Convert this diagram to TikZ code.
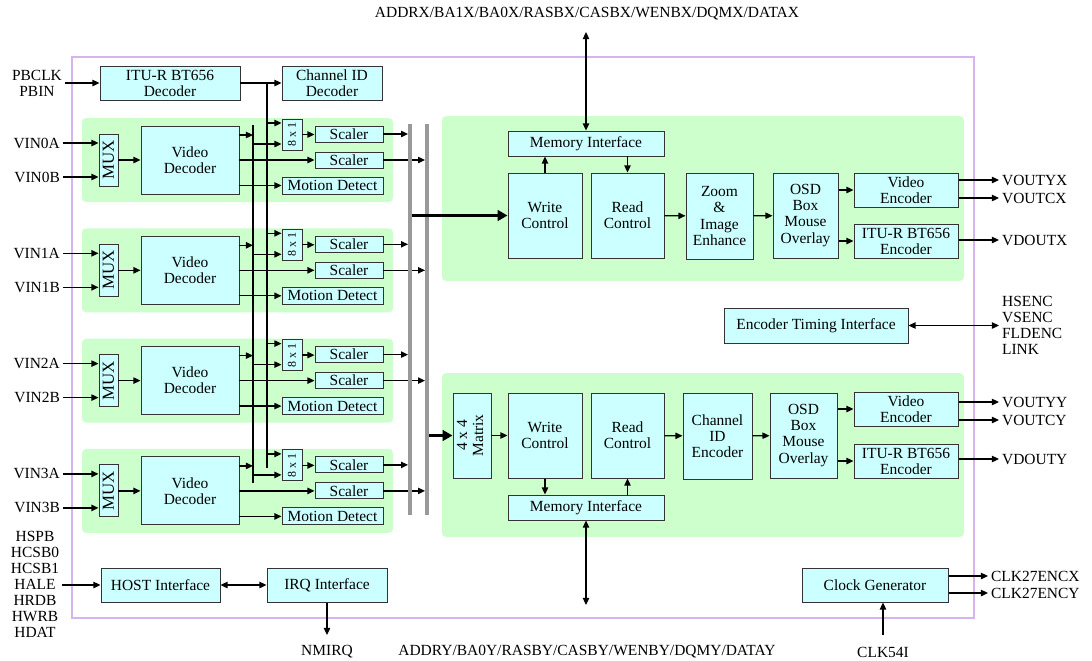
\documentclass[tikz,border=0pt]{standalone}
\usepackage{fontspec}
\setmainfont{Liberation Serif}
\usepackage{graphicx}
\usetikzlibrary{arrows.meta,calc}

\begin{document}
\begin{tikzpicture}[x=0.025cm,y=-0.025cm,
  font=\fontsize{11}{11.4}\selectfont,
  >={Triangle[length=5pt,width=4.5pt]},
  blk/.style 2 args={draw=vd_edge,fill=vd_cyan,line width=0.7pt,inner sep=0pt,align=center,
    minimum width=#1*0.025cm,minimum height=#2*0.025cm},
  pinlbl/.style={inner sep=2pt,align=center},
  sig/.style={line width=0.9pt,->},
  fat/.style={line width=2.8pt,-{Triangle[length=7pt,width=7.5pt]}},
  bus/.style={line width=1.6pt},
  gbus/.style={line width=2.8pt,color=vd_gray}]

% ------------------------------------------------ decoder chip colors
\definecolor{vd_cyan}{RGB}{204,255,255}  %#CCFFFF
\definecolor{vd_green}{RGB}{204,255,204} %#CCFFCC
\definecolor{vd_edge}{RGB}{51,51,51}     %#333333
\definecolor{vd_frame}{RGB}{214,180,240} %#D6B4F0
\definecolor{vd_gray}{RGB}{153,153,153}  %#999999

\useasboundingbox (0,0) rectangle (1092,660);

% ------------------------------------------------ chip outline and areas
\draw[color=vd_frame,line width=0.8pt] (72,57) rectangle (974,618);
\fill[vd_green,rounded corners=3pt] (442,116) rectangle (964,281);
\fill[vd_green,rounded corners=3pt] (442,373) rectangle (964,537);

% ------------------------------------------------ playback input
\node[blk={140}{34}] (itudec) at (170,83) {ITU-R BT656\\Decoder};
\node[blk={100}{34}] (chdec) at (332,83) {Channel ID\\Decoder};
\node[pinlbl,anchor=east] (pbin) at (65,83) {PBCLK\\PBIN};
\draw[sig] (pbin.east) -- (itudec.west);
\draw[sig] (itudec.east) -- (chdec.west);

\coordinate (busAtop) at (253,125);
\coordinate (busAbot) at (253,483);
\coordinate (busBtop) at (267,83);
\coordinate (busBbot) at (267,468);
\coordinate (gbarA) at (410,124);
\coordinate (gbarAbot) at (410,515);
\coordinate (gbarB) at (427,124);
\coordinate (gbarBbot) at (427,515);

% ------------------------------------------------ four video channels
\foreach \i in {0,...,3}{
  \pgfmathsetmacro{\y}{118+110.3*\i}
  \fill[vd_green,rounded corners=3pt] (82,\y) rectangle (393,\y+84);
  \node[blk={19}{52}] (mux\i) at (108.5,\y+42) {\rotatebox{90}{\fontsize{12}{12}\selectfont MUX}};
  \node[blk={98}{68}] (vd\i) at (190,\y+42) {Video\\Decoder};
  \node[blk={20}{31}] (mx\i) at (292,\y+16.5) {\rotatebox{90}{\fontsize{8.5}{10}\selectfont 8 x 1}};
  \node[blk={68}{16}] (sca\i) at (349,\y+16) {Scaler};
  \node[blk={68}{16}] (scb\i) at (349,\y+42) {Scaler};
  \node[blk={101}{17}] (md\i) at (332.5,\y+67.5) {Motion Detect};
  \node[pinlbl,anchor=east] (vina\i) at (63,\y+25) {VIN\i A};
  \node[pinlbl,anchor=east] (vinb\i) at (63,\y+59) {VIN\i B};
  \draw[sig] (vina\i.east) -- (vina\i.east -| mux\i.west);
  \draw[sig] (vinb\i.east) -- (vinb\i.east -| mux\i.west);
  \draw[sig] (mux\i) -- (vd\i);
  \coordinate (vo\i) at ($(vd\i.east)+(0,-25)$);
  \draw[sig] (vo\i) -- (vo\i -| busAtop);
  \draw[sig] (vd\i) -- (scb\i);
  \draw[sig] (vd\i.east |- md\i) -- (md\i);
  \coordinate (mia\i) at ($(mx\i.west)+(0,-11.5)$);
  \coordinate (mib\i) at ($(mx\i.west)+(0,9.5)$);
  \draw[sig] (mia\i -| busBtop) -- (mia\i);
  \draw[sig] (mib\i -| busAtop) -- (mib\i);
  \draw[sig] (mx\i.east) -- (mx\i.east -| sca\i.west);
  \draw[sig,shorten >=1.4pt] (sca\i) -- (sca\i -| gbarA);
  \draw[sig,shorten >=1.4pt] (scb\i) -- (scb\i -| gbarB);
}

\draw[bus] (busAtop) -- (busAbot);
\draw[bus] (busBtop) -- (busBbot);
\draw[gbus] (gbarA) -- (gbarAbot);
\draw[gbus] (gbarB) -- (gbarBbot);

% ------------------------------------------------ display path X
\node[blk={156}{25}] (memX) at (586,143.5) {Memory Interface};
\node[blk={74}{85}] (wrX) at (545,215.5) {Write\\Control};
\node[blk={73}{85}] (rdX) at (627.5,215.5) {Read\\Control};
\node[blk={67}{86}] (zoomX) at (719.5,216) {Zoom\\\&\\Image\\Enhance};
\node[blk={65}{85}] (osdX) at (805.5,215.5) {OSD\\Box\\Mouse\\Overlay};
\node[blk={104}{34}] (veX) at (906,190) {Video\\Encoder};
\node[blk={104}{34}] (ituX) at (906,241) {ITU-R BT656\\Encoder};

\draw[fat,shorten <=1.4pt] (wrX.west -| gbarA) -- (wrX.west);
\draw[sig] (wrX.north) -- (wrX.north |- memX.south);
\draw[sig] (rdX.north |- memX.south) -- (rdX.north);
\draw[sig] (rdX) -- (zoomX);
\draw[sig] (zoomX) -- (osdX);
\draw[sig] (osdX.east |- veX.west) -- (veX.west);
\draw[sig] (osdX.east |- ituX.west) -- (ituX.west);

\node[pinlbl] (ddrx) at (587,14) {ADDRX/BA1X/BA0X/RASBX/CASBX/WENBX/DQMX/DATAX};
\coordinate (ddrxend) at (586,32);
\draw[sig,<->] (memX.north) -- (ddrxend);

\node[pinlbl,anchor=west] (voutyx) at (999,180) {VOUTYX};
\node[pinlbl,anchor=west] (voutcx) at (999,198) {VOUTCX};
\node[pinlbl,anchor=west] (vdoutx) at (999,240) {VDOUTX};
\draw[sig] (veX.east |- voutyx) -- (voutyx.west);
\draw[sig] (veX.east |- voutcx) -- (voutcx.west);
\draw[sig] (ituX.east |- vdoutx) -- (vdoutx.west);

% ------------------------------------------------ encoder timing
\node[blk={184}{35}] (etX) at (816,325.5) {Encoder Timing Interface};
\node[pinlbl,anchor=west,align=left] (hsenc) at (999,325.5) {HSENC\\VSENC\\FLDENC\\LINK};
\draw[sig,<->] (etX) -- (hsenc.west);

% ------------------------------------------------ display path Y
\node[blk={38}{85}] (mtx) at (472,435.5) {\rotatebox{90}{\begin{tabular}{@{}c@{}}4 x 4\\Matrix\end{tabular}}};
\node[blk={74}{85}] (wrY) at (545,435.5) {Write\\Control};
\node[blk={73}{85}] (rdY) at (627.5,435.5) {Read\\Control};
\node[blk={69}{86}] (chenc) at (717.5,436) {Channel\\ID\\Encoder};
\node[blk={67}{85}] (osdY) at (803.5,435.5) {OSD\\Box\\Mouse\\Overlay};
\node[blk={104}{34}] (veY) at (906,409) {Video\\Encoder};
\node[blk={104}{34}] (ituY) at (906,461) {ITU-R BT656\\Encoder};
\node[blk={156}{25}] (memY) at (586,507.5) {Memory Interface};

\draw[fat,shorten <=1.4pt] (mtx.west -| gbarB) -- (mtx.west);
\draw[sig] (mtx) -- (wrY);
\draw[sig] (wrY.south) -- (wrY.south |- memY.north);
\draw[sig] (rdY.south |- memY.north) -- (rdY.south);
\draw[sig] (rdY) -- (chenc);
\draw[sig] (chenc) -- (osdY);
\draw[sig] (osdY.east |- veY.west) -- (veY.west);
\draw[sig] (osdY.east |- ituY.west) -- (ituY.west);

\node[pinlbl,anchor=west] (voutyy) at (999,402) {VOUTYY};
\node[pinlbl,anchor=west] (voutcy) at (999,420) {VOUTCY};
\node[pinlbl,anchor=west] (vdouty) at (999,459) {VDOUTY};
\draw[sig] (veY.east |- voutyy) -- (voutyy.west);
\draw[sig] (veY.east |- voutcy) -- (voutcy.west);
\draw[sig] (ituY.east |- vdouty) -- (vdouty.west);

\node[pinlbl] (ddry) at (587,652) {ADDRY/BA0Y/RASBY/CASBY/WENBY/DQMY/DATAY};
\coordinate (ddryend) at (586,605);
\draw[sig,<->] (memY.south) -- (ddryend);

% ------------------------------------------------ host, irq, clock
\node[blk={119}{34}] (host) at (160.5,585) {HOST Interface};
\node[blk={120}{34}] (irq) at (327,585) {IRQ Interface};
\node[pinlbl] (hbus) at (35,584.5) {HSPB\\HCSB0\\HCSB1\\HALE\\HRDB\\HWRB\\HDAT};
\draw[sig] (hbus.east |- host.west) -- (host.west);
\draw[sig,<->] (host) -- (irq);
\node[pinlbl] (nmirq) at (327,652) {NMIRQ};
\coordinate (nmirqend) at (327,635);
\draw[sig] (irq.south) -- (nmirqend);

\node[blk={146}{34}] (clk) at (875,585) {Clock Generator};
\node[pinlbl,anchor=west] (clkx) at (988,576) {CLK27ENCX};
\node[pinlbl,anchor=west] (clky) at (988,593) {CLK27ENCY};
\draw[sig] (clk.east |- clkx) -- (clkx.west);
\draw[sig] (clk.east |- clky) -- (clky.west);
\node[pinlbl] (clkin) at (883,652) {CLK54I};
\coordinate (clkinend) at (883,635);
\draw[sig] (clkinend) -- (clkinend |- clk.south);

\end{tikzpicture}
\end{document}
